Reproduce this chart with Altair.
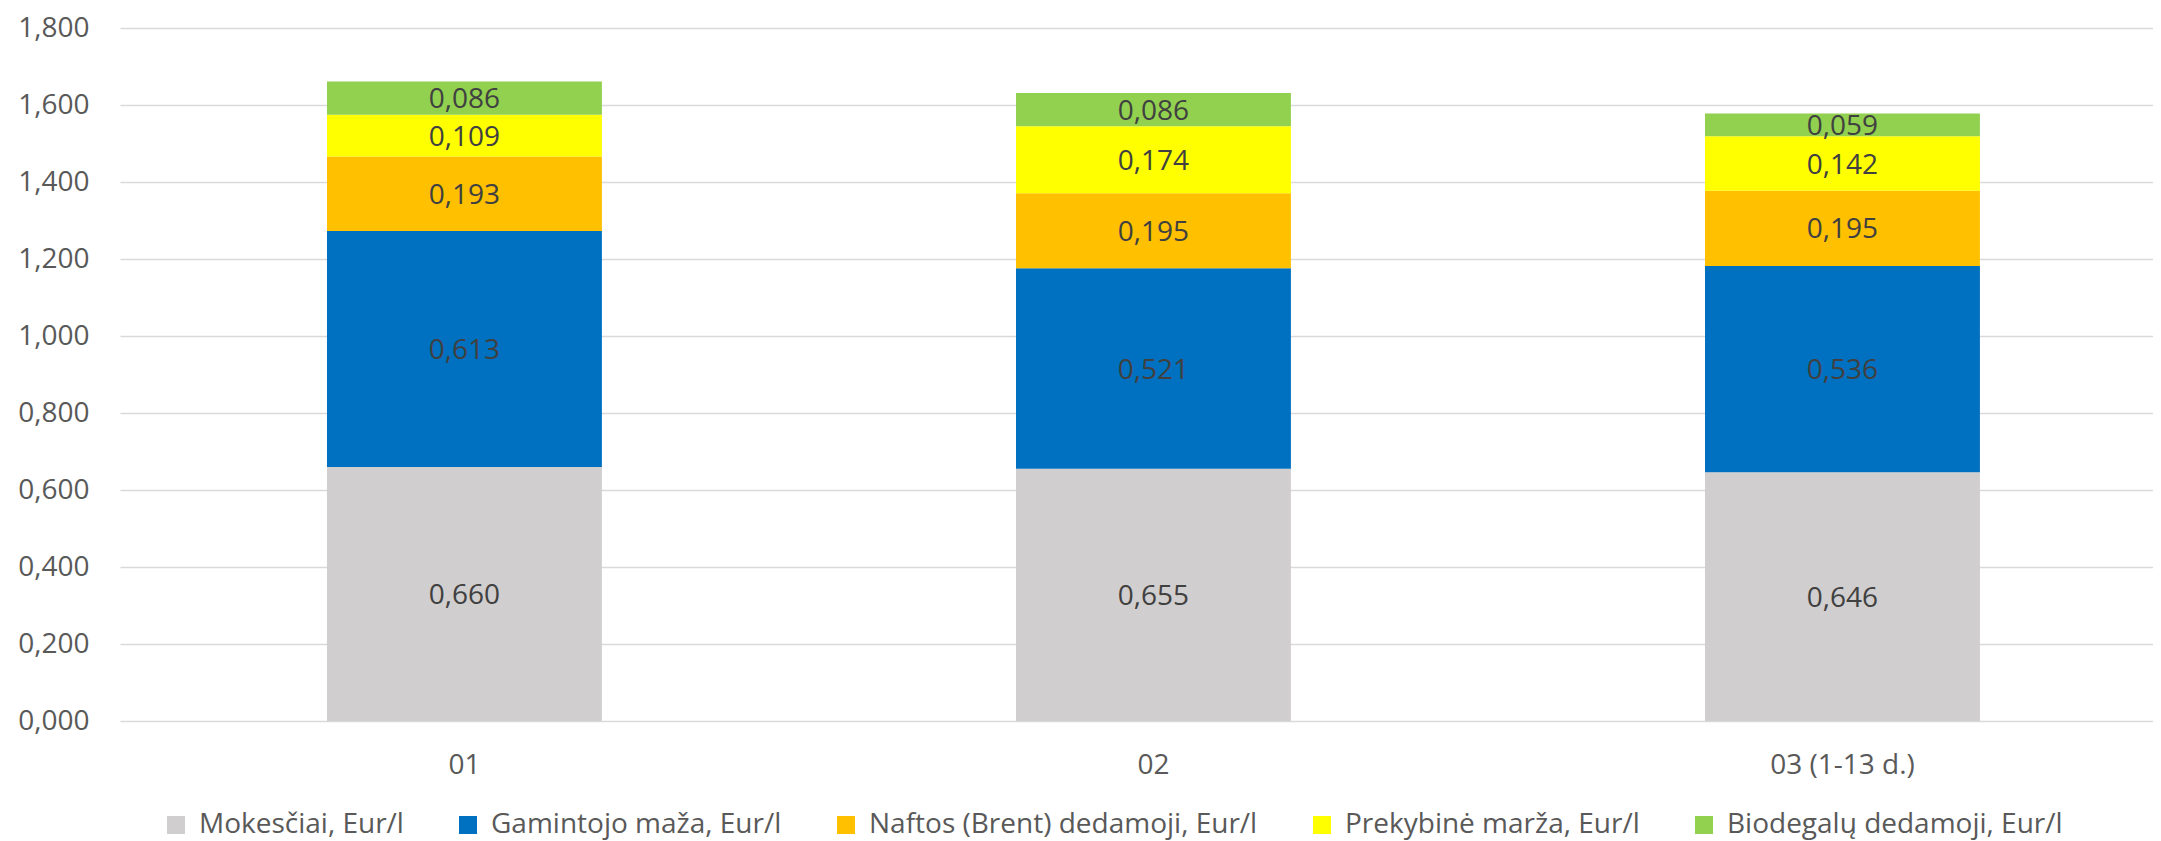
import altair as alt
import pandas as pd

categories = ["01", "02", "03 (1-13 d.)"]
series = [
    "Mokesčiai, Eur/l",
    "Gamintojo maža, Eur/l",
    "Naftos (Brent) dedamoji, Eur/l",
    "Prekybinė marža, Eur/l",
    "Biodegalų dedamoji, Eur/l",
]
mokesciai = [0.660, 0.655, 0.646]
gamintojo = [0.613, 0.521, 0.536]
naftos = [0.193, 0.195, 0.195]
prekybine = [0.109, 0.174, 0.142]
biodegalu = [0.086, 0.086, 0.059]
colors = ["#d0cece", "#0070c0", "#ffc000", "#ffff00", "#92d050"]
y_ticks = [0.0, 0.2, 0.4, 0.6, 0.8, 1.0, 1.2, 1.4, 1.6, 1.8]

rows = []
for si, (name, vals) in enumerate(zip(series, [mokesciai, gamintojo, naftos, prekybine, biodegalu])):
    for c, v in zip(categories, vals):
        rows.append({"cat": c, "series": name, "idx": si, "value": v})
df = pd.DataFrame(rows)

FONT = "Open Sans"

x = alt.X(
    "cat:N",
    sort=categories,
    title=None,
    scale=alt.Scale(paddingInner=0.601, paddingOuter=0.2758, align=0.5446),
    axis=alt.Axis(
        labelAngle=0, ticks=False, domain=False, labelPadding=30,
        labelFontSize=28, labelColor="#595959", labelFont=FONT,
    ),
)

base = alt.Chart(df).transform_stack(
    stack="value", groupby=["cat"], as_=["v0", "v1"],
    sort=[alt.SortField("idx", order="ascending")],
).transform_calculate(
    mid="(datum.v0 + datum.v1) / 2",
    label="replace(format(datum.value, '.3f'), '.', ',')",
)

bars = base.mark_bar().encode(
    x=x,
    y=alt.Y(
        "v0:Q", title=None,
        scale=alt.Scale(domain=[0, 1.8], nice=False),
        axis=alt.Axis(
            values=y_ticks, ticks=False, domain=False, labelPadding=31,
            labelFontSize=28, labelColor="#595959", labelFont=FONT,
            gridColor="#d9d9d9", gridWidth=1.6,
            labelExpr="replace(format(datum.value, '.3f'), '.', ',')",
        ),
    ),
    y2="v1:Q",
    color=alt.Color(
        "series:N",
        sort=series,
        scale=alt.Scale(domain=series, range=colors),
        legend=alt.Legend(
            title=None, orient="none", direction="horizontal", columns=5,
            legendX=42, legendY=783, symbolType="square", symbolSize=324,
            symbolStrokeWidth=0, labelFontSize=28, labelFont=FONT,
            labelColor="#595959", labelOffset=9, columnPadding=50,
            padding=0, labelLimit=600,
        ),
    ),
)

texts = base.mark_text(fontSize=28, font=FONT, color="#404040", dy=2).encode(
    x=alt.X("cat:N", sort=categories),
    y=alt.Y("mid:Q"),
    text="label:N",
)

chart = (
    alt.layer(bars, texts)
    .properties(
        width=2033, height=693,
        padding={"left": 112, "top": 20, "right": 0, "bottom": 120},
        autosize=alt.AutoSizeParams(type="none"),
        background="white",
    )
    .configure_view(stroke=None)
)
chart.save("out.html", embed_options={"renderer": "svg", "actions": False})
